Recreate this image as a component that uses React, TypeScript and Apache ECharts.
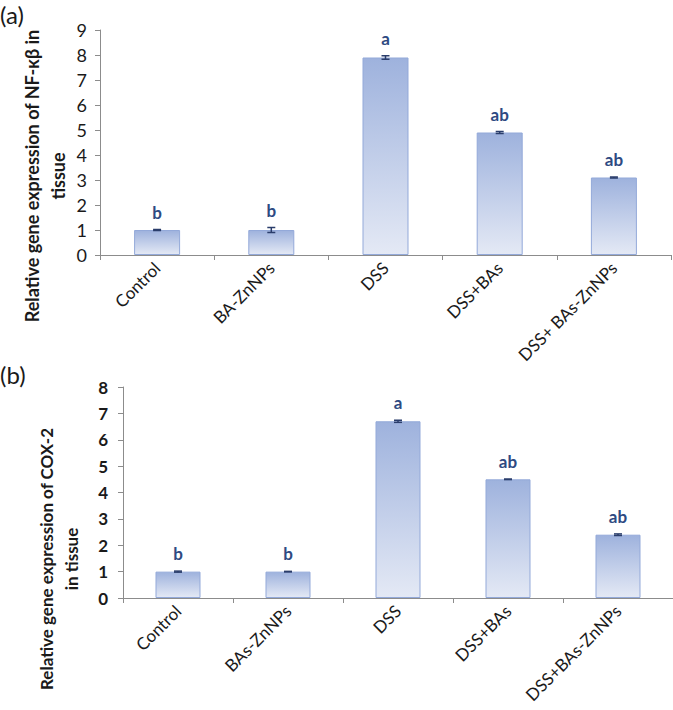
import React, { useEffect, useRef } from "react";
import * as echarts from "echarts";

const categoriesA = ["Control", "BA-ZnNPs", "DSS", "DSS+BAs", "DSS+ BAs-ZnNPs"];
const valuesA = [1.0, 1.0, 7.9, 4.9, 3.1];
const errorsA = [0.02, 0.1, 0.07, 0.04, 0.02];
const lettersA = ["b", "b", "a", "ab", "ab"];
const yMaxA = 9;

const categoriesB = ["Control", "BAs-ZnNPs", "DSS", "DSS+BAs", "DSS+BAs-ZnNPs"];
const valuesB = [1.0, 1.0, 6.7, 4.5, 2.4];
const errorsB = [0.02, 0.01, 0.04, 0.01, 0.03];
const lettersB = ["b", "b", "a", "ab", "ab"];
const yMaxB = 8;

const titleA = "Relative gene expression of NF-κβ in\ntissue";
const titleB = "Relative gene expression of COX-2\nin tissue";

const FONT = "Lato, 'Open Sans', sans-serif";
const LETTER_COLOR = "#2E4A82";
const ERR_COLOR = "#2A3D6B";

const barGradient = () =>
  new echarts.graphic.LinearGradient(0, 0, 0, 1, [
    { offset: 0, color: "#9EB2DD" },
    { offset: 1, color: "#E4E9F5" },
  ]);

function errorSeries(values: number[], errors: number[], idx: number) {
  return {
    type: "custom",
    xAxisIndex: idx,
    yAxisIndex: idx,
    z: 5,
    data: values.map((v, i) => [i, v, errors[i]]),
    renderItem: (params: any, api: any) => {
      const i = api.value(0);
      const v = api.value(1);
      const e = api.value(2);
      const hi = api.coord([i, v + e]);
      const lo = api.coord([i, v - e]);
      const cap = 4;
      const style = { stroke: ERR_COLOR, lineWidth: 1.5 };
      return {
        type: "group",
        children: [
          { type: "line", shape: { x1: hi[0], y1: hi[1], x2: lo[0], y2: lo[1] }, style },
          { type: "line", shape: { x1: hi[0] - cap, y1: hi[1], x2: hi[0] + cap, y2: hi[1] }, style },
          { type: "line", shape: { x1: lo[0] - cap, y1: lo[1], x2: lo[0] + cap, y2: lo[1] }, style },
        ],
      };
    },
  };
}

function letterSeries(values: number[], errors: number[], letters: string[], idx: number) {
  return {
    type: "custom",
    xAxisIndex: idx,
    yAxisIndex: idx,
    z: 6,
    data: values.map((v, i) => [i, v + errors[i]]),
    renderItem: (params: any, api: any) => {
      const p = api.coord([api.value(0), api.value(1)]);
      return {
        type: "text",
        x: p[0],
        y: p[1] - 9,
        style: {
          text: letters[params.dataIndex],
          fill: LETTER_COLOR,
          font: `bold 17px ${FONT}`,
          textAlign: "center",
          textVerticalAlign: "bottom",
        },
      };
    },
  };
}

export default function App() {
  const ref = useRef<HTMLDivElement>(null);
  useEffect(() => {
    if (!ref.current) return;
    const chart = echarts.init(ref.current, undefined, { renderer: "svg" });
    const axisLine = { show: true, lineStyle: { color: "#8C8C8C", width: 1 } };
    const xAxisCommon = (cats: string[], idx: number) => ({
      type: "category",
      gridIndex: idx,
      data: cats,
      axisLine,
      axisTick: { show: true, alignWithLabel: false, length: 5, lineStyle: { color: "#8C8C8C" } },
      axisLabel: {
        interval: 0,
        rotate: 45,
        margin: 10,
        fontSize: 17,
        fontFamily: FONT,
        color: "#1A1A1A",
      },
    });
    chart.setOption({
      animation: false,
      grid: [
        { left: 100, right: 2, top: 30, height: 225 },
        { left: 123, right: 0, top: 387, height: 211 },
      ],
      xAxis: [xAxisCommon(categoriesA, 0), xAxisCommon(categoriesB, 1)],
      yAxis: [
        {
          type: "value",
          gridIndex: 0,
          min: 0,
          max: yMaxA,
          interval: 1,
          axisLine,
          axisTick: { show: true, length: 5, lineStyle: { color: "#8C8C8C" } },
          splitLine: { show: false },
          axisLabel: { fontSize: 18, fontFamily: FONT, color: "#1A1A1A", margin: 13 },
        },
        {
          type: "value",
          gridIndex: 1,
          min: 0,
          max: yMaxB,
          interval: 1,
          axisLine,
          axisTick: { show: true, length: 5, lineStyle: { color: "#8C8C8C" } },
          splitLine: { show: false },
          axisLabel: { fontSize: 17, fontWeight: "bold", fontFamily: FONT, color: "#1A1A1A", margin: 15 },
        },
      ],
      series: [
        {
          type: "bar",
          xAxisIndex: 0,
          yAxisIndex: 0,
          data: valuesA,
          barWidth: 46,
          itemStyle: { color: barGradient(), borderColor: "#93A9D9", borderWidth: 1 },
        },
        errorSeries(valuesA, errorsA, 0),
        letterSeries(valuesA, errorsA, lettersA, 0),
        {
          type: "bar",
          xAxisIndex: 1,
          yAxisIndex: 1,
          data: valuesB,
          barWidth: 45,
          itemStyle: { color: barGradient(), borderColor: "#93A9D9", borderWidth: 1 },
        },
        errorSeries(valuesB, errorsB, 1),
        letterSeries(valuesB, errorsB, lettersB, 1),
      ],
      graphic: [
        {
          type: "text",
          left: 0,
          top: 2,
          style: { text: "(a)", font: `24px ${FONT}`, fill: "#1A1A1A" },
        },
        {
          type: "text",
          left: 0,
          top: 362,
          style: { text: "(b)", font: `24px ${FONT}`, fill: "#1A1A1A" },
        },
        {
          type: "text",
          x: 45,
          y: 176,
          rotation: Math.PI / 2,
          style: {
            text: titleA,
            font: `bold 18px ${FONT}`,
            fill: "#1A1A1A",
            textAlign: "center",
            textVerticalAlign: "middle",
            lineHeight: 26,
          },
        },
        {
          type: "text",
          x: 59,
          y: 559,
          rotation: Math.PI / 2,
          style: {
            text: titleB,
            font: `bold 17px ${FONT}`,
            fill: "#1A1A1A",
            textAlign: "center",
            textVerticalAlign: "middle",
            lineHeight: 25,
          },
        },
      ],
    });
    return () => chart.dispose();
  }, []);
  return (
    <div
      ref={ref}
      style={{ position: "absolute", left: 0, top: 0, width: 673, height: 710, background: "#fff" }}
    />
  );
}
